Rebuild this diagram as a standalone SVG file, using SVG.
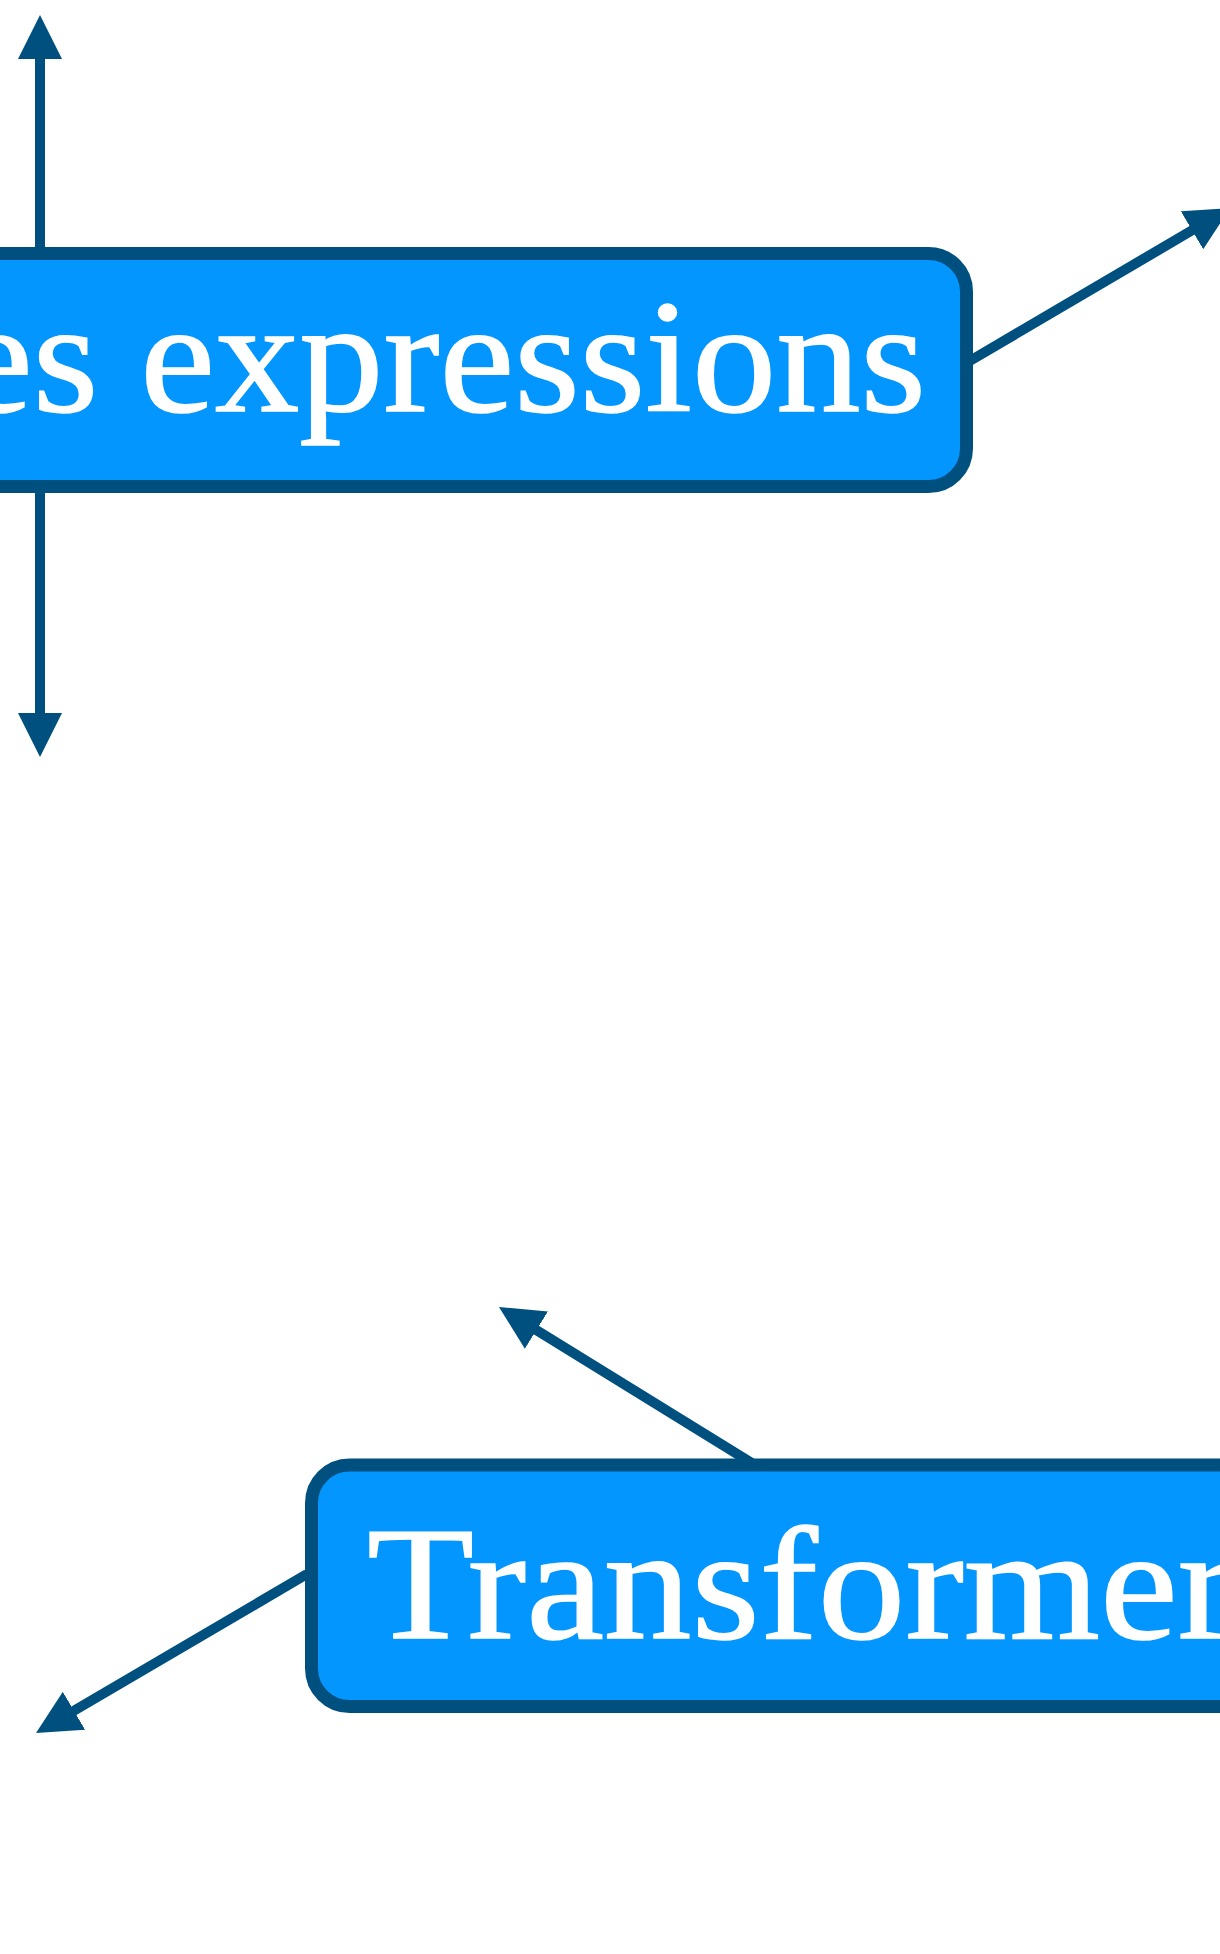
<svg xmlns="http://www.w3.org/2000/svg" width="1220" height="1954" viewBox="0 0 1220 1954">
  <defs>
    <style>
      .box { fill: #0396ff; stroke: #00507f; stroke-width: 13; }
      .label { font-family: "Liberation Serif", "Times New Roman", serif; font-size: 160px; fill: #ffffff; stroke: #ffffff; stroke-width: 1.5; }
      .edge { fill: none; stroke: #00507f; stroke-width: 10; }
    </style>
    <marker id="arrow" markerUnits="userSpaceOnUse" markerWidth="44" markerHeight="44" refX="4" refY="22" orient="auto" viewBox="0 0 44 44">
      <path d="M0,0 L44,22 L0,44 Z" fill="#00507f"/>
    </marker>
  </defs>
  <rect width="1220" height="1954" fill="#ffffff"/>

  <g id="node-expressions">
    <rect class="box" x="-800" y="253.5" width="1766.5" height="233" rx="38" ry="38"/>
    <text class="label" x="-42" y="411" textLength="968" lengthAdjust="spacingAndGlyphs">es expressions</text>
  </g>

  <g id="node-transformer">
    <rect class="box" x="311.5" y="1465" width="1500" height="241.5" rx="38" ry="38"/>
    <text class="label" x="367" y="1638" textLength="869" lengthAdjust="spacingAndGlyphs">Transformer</text>
  </g>

  <g id="connectors">
    <path class="edge" d="M40,254 L40,55" marker-end="url(#arrow)"/>
    <path class="edge" d="M40,487 L40,717" marker-end="url(#arrow)"/>
    <path class="edge" d="M968,362 L1195.5,228.3" marker-end="url(#arrow)"/>
    <path class="edge" d="M755,1465 L533,1328" marker-end="url(#arrow)"/>
    <path class="edge" d="M307,1574 L70.5,1712.8" marker-end="url(#arrow)"/>
  </g>
</svg>
